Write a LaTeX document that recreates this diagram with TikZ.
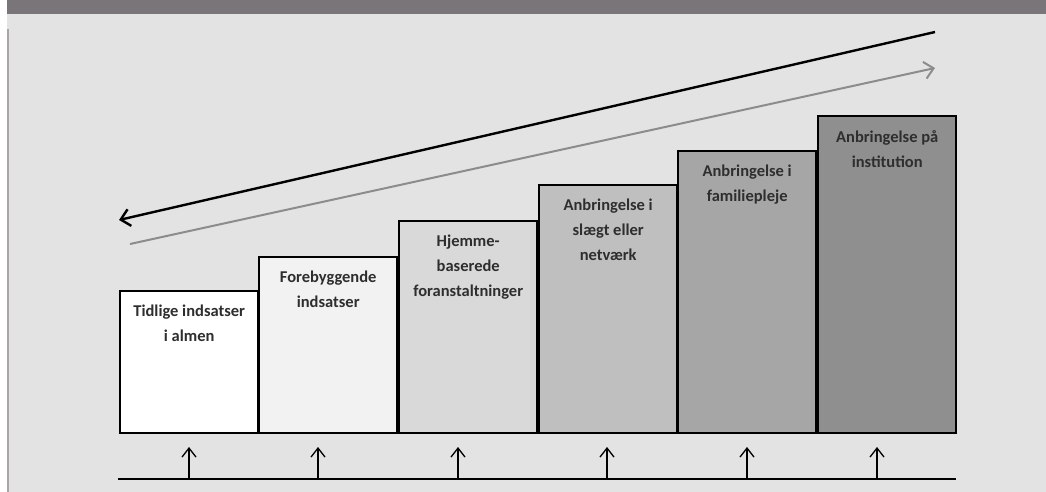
\documentclass[tikz,border=0pt]{standalone}
\usepackage{fontspec}
\setmainfont{Carlito}
\usetikzlibrary{arrows.meta,positioning}
\definecolor{band}{HTML}{7A7579}
\definecolor{bund}{HTML}{E3E3E3}
\definecolor{kant}{HTML}{A9A5A8}
\definecolor{graapil}{HTML}{8C8C8C}

\begin{document}
\begin{tikzpicture}[x=1pt,y=-1pt,
trin/.style={draw=black,line width=2.4pt,anchor=north west,inner sep=0pt,minimum width=138pt},
tekst/.style={anchor=north,align=center,inner sep=0pt,text=black!82,font=\bfseries\fontsize{16.5}{25}\selectfont},
pil/.style={line width=1.3pt,-{Straight Barb[length=9pt,width=14pt,line width=1.3pt]}}]
\useasboundingbox (0,0) rectangle (1046,492);
\fill[white] (0,0) rectangle (1046,492);
\fill[band] (7,0) rectangle (1046,14);
\fill[bund] (7,14) rectangle (1046,492);
\draw[kant,line width=2pt] (8,29) -- (8,492);

\node[trin,fill=white,minimum height=142pt] (t1) at (119,290) {};
\node[trin,fill=black!5,minimum height=176pt] (t2) at (258,256) {};
\node[trin,fill=black!15,minimum height=212pt] (t3) at (398,220) {};
\node[trin,fill=black!25,minimum height=248pt] (t4) at (538,184) {};
\node[trin,fill=black!35,minimum height=282pt] (t5) at (677,150) {};
\node[trin,fill=black!44,minimum height=317pt] (t6) at (817,115) {};

\node[tekst,below=15pt of t1.north] (x1) {Tidlige indsatser\\i almen};
\node[tekst,below=15pt of t2.north] (x2) {Forebyggende\\indsatser};
\node[tekst,below=15pt of t3.north] (x3) {Hjemme-\\baserede\\foranstaltninger};
\node[tekst,below=15pt of t4.north] (x4) {Anbringelse i\\slægt eller\\netværk};
\node[tekst,below=15pt of t5.north] (x5) {Anbringelse i\\familiepleje};
\node[tekst,below=15pt of t6.north] (x6) {Anbringelse på\\institution};

\coordinate (sortA) at (935,32);
\coordinate (sortB) at (119,220);
\coordinate (graaA) at (130,244);
\coordinate (graaB) at (935,68);
\draw[line width=2.4pt,-{Straight Barb[length=9pt,width=17pt,line width=2.4pt]}] (sortA) -- (sortB);
\draw[graapil,line width=2pt,-{Straight Barb[length=9pt,width=17pt,line width=2pt]}] (graaA) -- (graaB);

\coordinate (L) at (118,479);
\coordinate (R) at (956,479);
\draw[line width=2.4pt] (L) -- (R);
\coordinate (a1) at (189,479); \coordinate (p1) at (189,447);
\coordinate (a2) at (318,479); \coordinate (p2) at (318,447);
\coordinate (a3) at (458,479); \coordinate (p3) at (458,447);
\coordinate (a4) at (607,479); \coordinate (p4) at (607,447);
\coordinate (a5) at (747,479); \coordinate (p5) at (747,447);
\coordinate (a6) at (877,479); \coordinate (p6) at (877,447);
\draw[pil] (a1) -- (p1);
\draw[pil] (a2) -- (p2);
\draw[pil] (a3) -- (p3);
\draw[pil] (a4) -- (p4);
\draw[pil] (a5) -- (p5);
\draw[pil] (a6) -- (p6);
\end{tikzpicture}
\end{document}
